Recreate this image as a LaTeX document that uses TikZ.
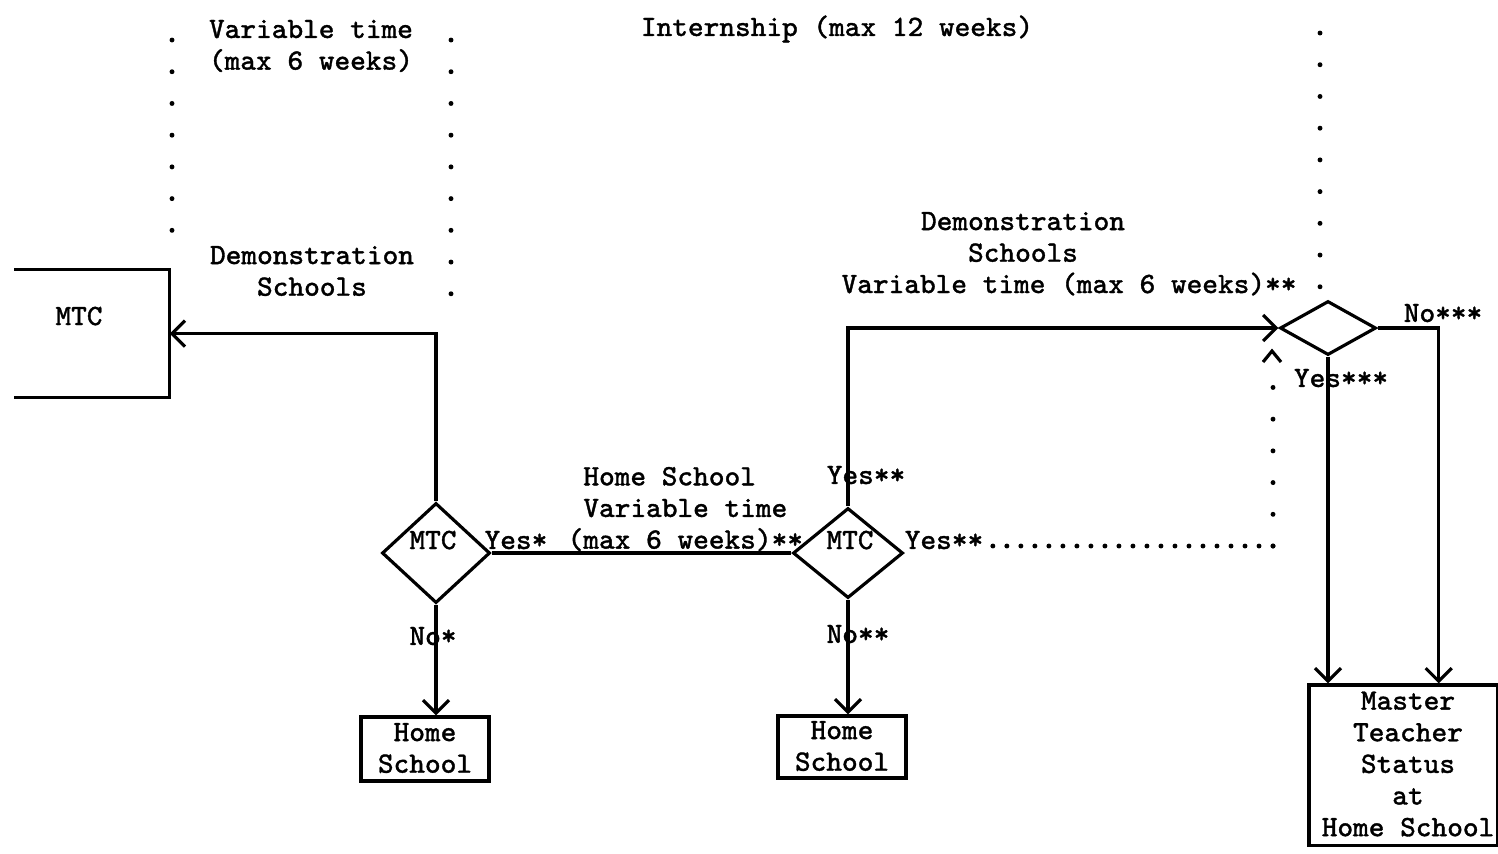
\documentclass[tikz,border=0pt]{standalone}
\usepackage{fontspec}
\newfontfamily\twfont[FakeBold=1.2]{Latin Modern Mono}
\usetikzlibrary{shapes.geometric,arrows.meta,calc}
\begin{document}
\begin{tikzpicture}[x=0.01cm,y=-0.01cm,
  lbl/.style={font=\fontsize{8.4}{9}\selectfont\twfont, align=center, inner sep=0pt},
  box/.style={draw, rectangle, line width=0.9pt, inner sep=0pt},
  dia/.style={draw, diamond, line width=0.9pt, inner sep=0pt},
  conn/.style={line width=0.9pt},
  arr/.style={conn, -{Straight Barb[length=1.3mm,width=2.6mm]}},
  vdots/.style={line width=1.4pt, line cap=round, dash pattern=on 0pt off 0.317cm},
  hdots/.style={line width=1.4pt, line cap=round, dash pattern=on 0pt off 0.14cm}]
\useasboundingbox (0,0) rectangle (1498,853);

% period dotted separators
\draw[vdots] (172,40) -- (172,262);
\draw[vdots] (451,40) -- (451,325);
\draw[vdots] (1320,33) -- (1320,292);

% header texts
\node[lbl] (vt) at (311,46) {Variable time\\(max 6 weeks)};
\node[lbl] (intern) at (837,29) {Internship (max 12 weeks)};
\node[lbl] (demo1) at (312,271) {Demonstration\\Schools};
\node[lbl] (demo2a) at (1023,237) {Demonstration\\Schools};
\node[lbl] (demo2b) at (1069,284) {Variable time (max 6 weeks)**};

% MTC box (open on the left)
\node[rectangle, minimum width=1.54cm, minimum height=1.27cm, inner sep=0pt] (mtcbox) at (92,333.5) {};
\draw[conn] (mtcbox.north west) -- (mtcbox.north east) -- (mtcbox.south east) -- (mtcbox.south west);
\node[lbl] (mtctxt) at (79,316) {MTC};

% decision diamonds
\node[dia, minimum width=1.08cm, minimum height=1.0cm] (d1) at (436,553) {};
\node[lbl] (d1t) at (433,540) {MTC};
\node[dia, minimum width=1.10cm, minimum height=0.9cm] (d2) at (848,553) {};
\node[lbl] (d2t) at (850,540) {MTC};
\node[dia, minimum width=0.96cm, minimum height=0.54cm] (d3) at (1328,328) {};

% outcome boxes
\node[box, minimum width=1.28cm, minimum height=0.64cm] (hs1) at (425,749) {};
\node[lbl] (hs1t) at (425,748) {Home\\School};
\node[box, minimum width=1.28cm, minimum height=0.62cm] (hs2) at (842,747) {};
\node[lbl] (hs2t) at (842,746) {Home\\School};
\node[box, minimum width=1.88cm, minimum height=1.60cm] (master) at (1403,765) {};
\node[lbl] (mastert) at (1408,764) {Master\\Teacher\\Status\\at\\Home School};

% connectors
\draw[arr] (d1.north) |- (mtcbox.east);
\draw[arr] (d1.south) -- (d1.south |- hs1.north);
\draw[conn] (d1.east) -- (d2.west);
\draw[arr] (d2.south) -- (d2.south |- hs2.north);
\draw[arr] (d2.north) |- (d3.west);
\draw[arr] (d3.south) -- (d3.south |- master.north);
\coordinate (mright) at ($(master.north east)+(-60,0)$);
\draw[arr] (d3.east) -| (mright);

% connector labels
\node[lbl] (no1) at (433,636) {No*};
\node[lbl] (yes1) at (516,540) {Yes*};
\node[lbl, align=left, anchor=west] (hsvt) at (567,509) {\hphantom{(}Home School\\\hphantom{(}Variable time\\(max 6 weeks)**};
\node[lbl] (no2) at (858,634) {No**};
\node[lbl] (yes2u) at (866,475) {Yes**};
\node[lbl] (yes2r) at (944,540) {Yes**};
\node[lbl] (yes3) at (1341,378) {Yes***};
\node[lbl] (no3) at (1443,313) {No***};

% dotted path to the final decision
\coordinate (corner) at (1273,546);
\coordinate (tip) at (1272,351);
\draw[hdots] (corner) -- (992,546);
\draw[vdots] (corner) -- (1273,386);
\draw[conn] ($(tip)+(-9,11)$) -- (tip) -- ($(tip)+(9,11)$);
\end{tikzpicture}
\end{document}
